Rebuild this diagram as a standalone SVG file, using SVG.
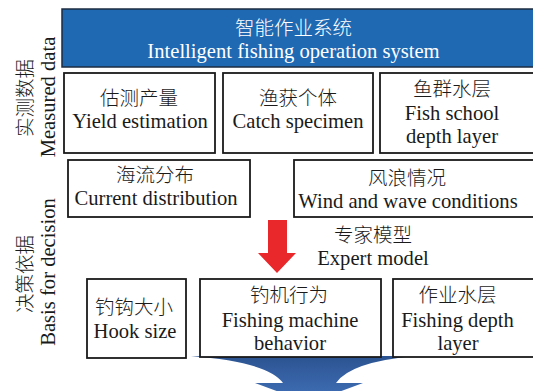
<svg xmlns="http://www.w3.org/2000/svg" width="533" height="391" viewBox="0 0 533 391">
<style>
.box{fill:#fff;stroke:#1a1a1a;stroke-width:1.8}
.t{font-family:"Liberation Serif","Noto Sans CJK SC",serif;font-size:20.6px;fill:#1a1a1a;text-anchor:middle}
.c{font-family:"Noto Sans CJK SC","Liberation Serif",sans-serif;font-size:19.5px;font-weight:300;fill:#1a1a1a;text-anchor:middle}
</style>
<defs>
<linearGradient id="bg" x1="0" y1="0" x2="0" y2="1">
<stop offset="0" stop-color="#2b5391"/>
<stop offset="1" stop-color="#4272ba"/>
</linearGradient>
</defs>
<rect width="533" height="391" fill="#fff"/>
<g id="connectors">
<path d="M191,356 L415,356 Q350,362 336,383 L363,383 L309,403 L255,383 L283,383 Q268,362 191,356 Z" fill="url(#bg)"/>
<path d="M268,220 L287,220 L287,253 L296,253 L277,273 L258,253 L268,253 Z" fill="#e8282b"/>
</g>
<g id="labels">
<text class="c" transform="translate(32,98) rotate(-90)">实测数据</text>
<text class="t" transform="translate(55,97) rotate(-90)">Measured data</text>
<text class="c" transform="translate(32,274) rotate(-90)">决策依据</text>
<text class="t" transform="translate(55,272) rotate(-90)">Basis for decision</text>
</g>
<g id="header">
<rect x="62" y="9" width="480" height="58" fill="#1f69b3" stroke="#1c2c40" stroke-width="1.5"/>
<text class="c" x="293.5" y="35" style="fill:#fff">智能作业系统</text>
<text class="t" x="293.5" y="58" style="fill:#fff">Intelligent fishing operation system</text>
</g>
<g id="yield">
<rect class="box" x="64" y="73" width="151" height="80"/>
<text class="c" x="139" y="105">估测产量</text>
<text class="t" x="140" y="128">Yield estimation</text>
</g>
<g id="catch">
<rect class="box" x="223" y="73" width="150" height="80"/>
<text class="c" x="298" y="105">渔获个体</text>
<text class="t" x="298" y="128">Catch specimen</text>
</g>
<g id="fishschool">
<rect class="box" x="380" y="73" width="160" height="80"/>
<text class="c" x="452" y="96">鱼群水层</text>
<text class="t" x="452" y="120">Fish school</text>
<text class="t" x="452" y="143">depth layer</text>
</g>
<g id="current">
<rect class="box" x="68" y="160" width="182" height="57"/>
<text class="c" x="155" y="182">海流分布</text>
<text class="t" x="156" y="205">Current distribution</text>
</g>
<g id="wind">
<rect class="box" x="294" y="160" width="246" height="57"/>
<text class="c" x="407" y="185">风浪情况</text>
<text class="t" x="408" y="208">Wind and wave conditions</text>
</g>
<g id="expert">
<text class="c" x="373" y="242">专家模型</text>
<text class="t" x="373" y="265">Expert model</text>
</g>
<g id="hook">
<rect class="box" x="87" y="279" width="99" height="79"/>
<text class="c" x="134" y="314">钓钩大小</text>
<text class="t" x="135" y="338">Hook size</text>
</g>
<g id="machine">
<rect class="box" x="200" y="279" width="181" height="78"/>
<text class="c" x="289" y="302">钓机行为</text>
<text class="t" x="290" y="327">Fishing machine</text>
<text class="t" x="290" y="350">behavior</text>
</g>
<g id="depth">
<rect class="box" x="393" y="279" width="147" height="78"/>
<text class="c" x="457.5" y="302">作业水层</text>
<text class="t" x="457.5" y="327">Fishing depth</text>
<text class="t" x="458" y="350">layer</text>
</g>
</svg>
